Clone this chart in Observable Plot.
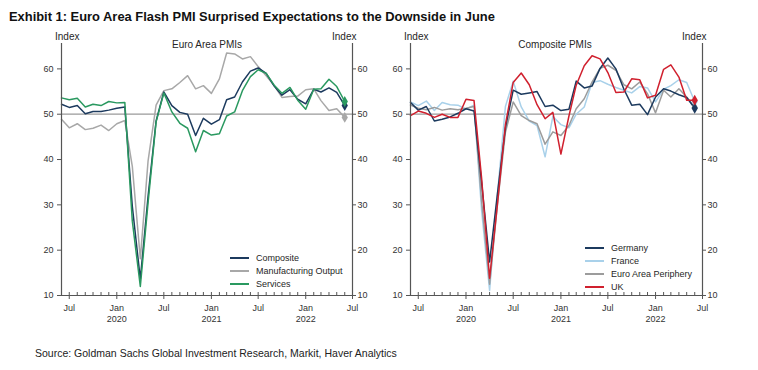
<!DOCTYPE html>
<html><head><meta charset="utf-8">
<script src="https://cdn.jsdelivr.net/npm/d3@7"></script>
<script src="https://cdn.jsdelivr.net/npm/@observablehq/plot@0.6"></script>
<style>
body{margin:0;background:#fff;font-family:"Liberation Sans",Arial,sans-serif;}
#wrap{position:relative;width:758px;height:370px;overflow:hidden;background:#fff;}
.abs{position:absolute;white-space:nowrap;color:#262626;line-height:12px;}
.abs svg{vertical-align:middle;}
</style></head><body><div id="wrap"></div>
<script>
// ---- data (monthly, Jun 2019 .. Jun 2022) ----
const startDate = new Date(Date.UTC(2019, 5, 1));
const endDate = new Date(Date.UTC(2022, 6, 1));
const months = d3.utcMonth.range(startDate, endDate);

const euroComposite = [52.2,51.5,51.9,50.1,50.6,50.6,50.9,51.3,51.6,29.7,13.6,31.9,48.5,54.9,51.9,50.4,50.0,45.3,49.1,47.8,48.8,53.2,53.8,57.1,59.5,60.2,59.0,56.2,54.2,55.4,53.3,52.3,55.5,54.9,55.8,54.8,51.9];
const euroMfgOutput = [48.9,47.0,47.9,46.6,46.9,47.6,46.4,47.9,48.6,38.5,18.1,39.7,52.0,55.2,55.6,57.0,58.5,55.6,56.3,54.6,57.8,63.5,63.3,62.2,62.7,60.5,58.5,56.3,53.7,53.9,54.0,55.4,55.6,53.0,50.8,51.2,49.3];
const euroServices = [53.6,53.2,53.5,51.6,52.2,51.9,52.8,52.5,52.6,26.4,12.0,30.5,48.3,54.7,50.5,48.0,46.9,41.7,46.4,45.4,45.7,49.6,50.5,55.2,58.3,59.8,59.0,56.4,54.6,55.9,53.1,51.1,55.5,55.6,57.7,56.1,52.8];

const germany = [52.6,50.9,51.7,48.5,48.9,49.4,50.2,51.2,50.7,35.0,17.4,32.3,47.0,55.3,54.4,54.7,55.0,51.7,52.0,50.8,51.1,57.3,55.8,56.2,60.1,62.4,60.0,55.5,52.0,52.2,49.9,53.8,55.6,55.1,54.3,53.7,51.3];
const france = [52.7,51.9,52.9,50.8,52.6,52.1,52.0,51.1,52.0,28.9,11.1,32.1,51.7,57.3,51.6,48.5,47.5,40.6,49.5,47.7,47.0,50.0,51.6,57.0,57.4,56.6,55.9,55.3,54.7,56.1,55.8,52.7,55.5,56.3,57.6,57.0,52.8];
const periphery = [52.0,51.3,51.0,51.5,50.9,51.2,51.0,51.3,51.7,31.0,12.5,30.0,46.0,52.7,49.7,48.6,47.9,43.4,46.1,45.3,47.5,51.2,53.4,57.1,60.1,60.8,59.7,56.5,55.6,57.1,54.5,50.3,55.3,53.8,55.6,53.8,51.5];
const uk = [49.7,50.7,50.2,49.3,50.0,49.3,49.3,53.3,53.0,36.0,13.8,30.0,47.7,57.0,59.1,56.5,52.1,49.0,50.4,41.2,49.6,56.4,60.7,62.9,62.2,59.2,54.8,54.9,57.8,57.6,53.6,54.2,59.9,60.9,58.2,53.1,53.1];

const yTicks = [10, 20, 30, 40, 50, 60];
const leftNames = ["Composite", "Manufacturing Output", "Services"];
const leftColors = ["#1c3a5e", "#a8a8a8", "#2a9960"];
const rightNames = ["Germany", "France", "Euro Area Periphery", "UK"];
const rightColors = ["#1c3a5e", "#a9d1ea", "#9c9c9c", "#d0202e"];

const leftSeries = [
  {name: "Manufacturing Output", values: euroMfgOutput},
  {name: "Composite", values: euroComposite},
  {name: "Services", values: euroServices}
];
const rightSeries = [
  {name: "France", values: france},
  {name: "Euro Area Periphery", values: periphery},
  {name: "Germany", values: germany},
  {name: "UK", values: uk}
];

// ---- drawing ----
const wrap = document.getElementById("wrap");
function addText(txt, left, top, css) {
  const d = document.createElement("div");
  d.className = "abs";
  d.textContent = txt;
  d.style.left = left + "px";
  d.style.top = top + "px";
  Object.assign(d.style, css || {});
  wrap.appendChild(d);
  return d;
}

const majorTicks = months.filter(d => d.getUTCMonth() === 0 || d.getUTCMonth() === 6).concat([endDate]);
const fmt = d => d.getUTCMonth() === 0 ? `Jan\n${d.getUTCFullYear()}` : "Jul";

function panel(series, names, colors, width, marginLeft, marginRight) {
  const data = series.flatMap(s => s.values.map((v, i) => ({date: months[i], value: v, name: s.name})));
  const last = series.map(s => ({date: months[months.length - 1], value: s.values[s.values.length - 1], name: s.name}));
  return Plot.plot({
    width, height: 300, marginLeft, marginRight, marginTop: 13, marginBottom: 35,
    style: {fontFamily: "Liberation Sans, Arial, sans-serif", fontSize: "9px", color: "#333", background: "transparent", overflow: "visible"},
    x: {type: "utc", domain: [startDate, endDate]},
    y: {domain: [10, 65.6]},
    color: {domain: names, range: colors},
    marks: [
      Plot.ruleY([50], {stroke: "#9a9a9a", strokeWidth: 1.3}),
      Plot.lineY(data, {x: "date", y: "value", z: "name", stroke: "name", strokeWidth: 1.5}),
      Plot.dot(last, {x: "date", y: "value", fill: "name", symbol: "diamond", r: 3.3}),
      Plot.ruleX([startDate, endDate], {stroke: "#555", strokeWidth: 1.2}),
      Plot.ruleY([10], {stroke: "#555", strokeWidth: 1.2}),
      Plot.axisY({anchor: "left", ticks: yTicks, tickSize: 4, tickPadding: 4, label: null, stroke: "#555"}),
      Plot.axisY({anchor: "right", ticks: yTicks, tickSize: 3, tickPadding: 2, label: null, stroke: "#555"}),
      Plot.axisX({anchor: "bottom", ticks: months, tickSize: -3, tickFormat: () => "", label: null, stroke: "#555"}),
      Plot.axisX({anchor: "bottom", ticks: majorTicks, tickSize: 4, tickPadding: 3, tickFormat: fmt, lineHeight: 1.25, label: null, stroke: "#555"})
    ]
  });
}

const left = panel(leftSeries, leftNames, leftColors, 375, 61, 23);
left.style.position = "absolute"; left.style.left = "0px"; left.style.top = "30px";
wrap.appendChild(left);
const right = panel(rightSeries, rightNames, rightColors, 383, 35, 56);
right.style.position = "absolute"; right.style.left = "375px"; right.style.top = "30px";
wrap.appendChild(right);

// titles and labels
addText("Exhibit 1: Euro Area Flash PMI Surprised Expectations to the Downside in June", 9, 10, {fontWeight: "bold", fontSize: "12.9px", color: "#111", lineHeight: "14px"});
addText("Source: Goldman Sachs Global Investment Research, Markit, Haver Analytics", 35, 347, {fontSize: "10.5px", color: "#222"});
addText("Euro Area PMIs", 207, 39, {fontSize: "10px", transform: "translateX(-50%)"});
addText("Composite PMIs", 555, 39, {fontSize: "10px", transform: "translateX(-50%)"});
addText("Index", 55, 31, {fontSize: "10px"});
addText("Index", 332, 31, {fontSize: "10px"});
addText("Index", 404, 31, {fontSize: "10px"});
addText("Index", 682, 31, {fontSize: "10px"});

function legend(names, colors, lineX, textX, topY) {
  names.forEach((n, i) => {
    const y = topY + i * 13;
    const d = document.createElement("div");
    d.className = "abs";
    d.style.left = lineX + "px"; d.style.top = (y - 6) + "px"; d.style.fontSize = "9px";
    d.innerHTML = `<svg width="${textX - lineX}" height="12" style="position:absolute;left:0;top:0"><line x1="0" x2="${textX - lineX - 7}" y1="6" y2="6" stroke="${colors[i]}" stroke-width="2"/></svg><span style="position:absolute;left:${textX - lineX}px;top:0">${n}</span>`;
    wrap.appendChild(d);
  });
}
legend(leftNames, leftColors, 230, 256, 258);
legend(rightNames, rightColors, 585, 611, 248);
</script></body></html>
